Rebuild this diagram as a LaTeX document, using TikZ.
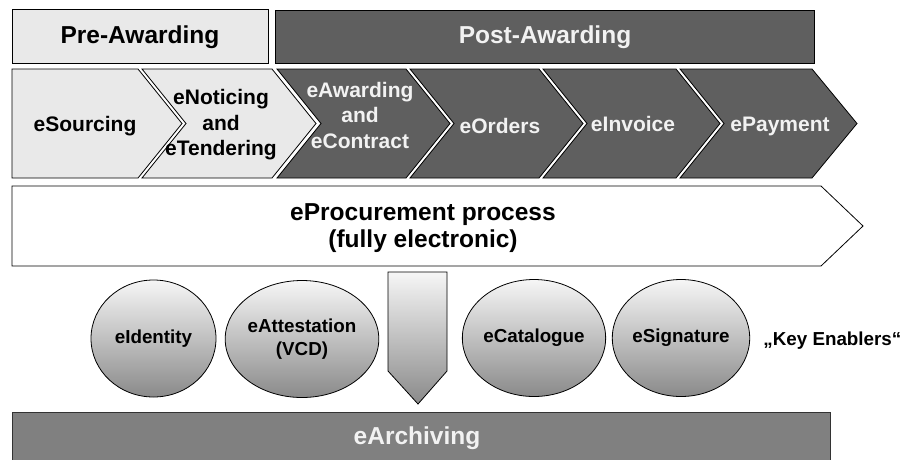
\documentclass[tikz,border=0pt]{standalone}
\usepackage{fontspec}
\setmainfont{Liberation Sans}
\usetikzlibrary{shapes.geometric}
\definecolor{lgray}{HTML}{E9E9E9}
\definecolor{dgray}{HTML}{5F5F5F}
\definecolor{agray}{HTML}{808080}
\definecolor{ltxt}{HTML}{F2F2F2}
\definecolor{shtop}{HTML}{F6F6F6}
\definecolor{shbot}{HTML}{8A8A8A}
\begin{document}
\begin{tikzpicture}[x=1pt,y=-1pt,line width=0.8pt,
  lightbox/.style={fill=lgray,draw=black},
  darkbox/.style={fill=dgray,draw=black},
  bigtxt/.style={font=\fontsize{24.5}{27}\selectfont\bfseries,align=center,inner sep=0pt},
  chevtxt/.style={font=\fontsize{21}{25.5}\selectfont\bfseries,align=center,inner sep=0pt},
  circtxt/.style={font=\fontsize{18.8}{23}\selectfont\bfseries,align=center,inner sep=0pt},
  enabler/.style={ellipse,draw=black,top color=shtop,bottom color=shbot,minimum width=125pt,minimum height=117pt,inner sep=0pt,font=\fontsize{18.8}{23}\selectfont\bfseries,align=center}]
\clip (0,0) rectangle (901,459);
\fill[white] (0,0) rectangle (901,459);
% phase headers
\draw[lightbox] (12,9) rectangle (268,63);
\node[bigtxt] (pre) at (140,37) {Pre-Awarding};
\draw[darkbox] (275,10) rectangle (814,63);
\node[bigtxt,text=ltxt] (post) at (545,37) {Post-Awarding};
% chevrons
\draw[lightbox] (12,69) -- (138,69) -- (182,123.5) -- (138,178) -- (12,178) -- cycle;
\draw[lightbox] (142,69) -- (272,69) -- (316,123.5) -- (272,178) -- (142,178) -- (186,123.5) -- cycle;
\draw[darkbox] (277,69) -- (406,69) -- (450,123.5) -- (406,178) -- (277,178) -- (321,123.5) -- cycle;
\draw[darkbox] (410,69) -- (539,69) -- (583,123.5) -- (539,178) -- (410,178) -- (454,123.5) -- cycle;
\draw[darkbox] (543,69) -- (676,69) -- (720,123.5) -- (676,178) -- (543,178) -- (587,123.5) -- cycle;
\draw[darkbox] (680,69) -- (812,69) -- (857,123.5) -- (812,178) -- (680,178) -- (724,123.5) -- cycle;
\node[chevtxt] (src) at (85,126) {eSourcing};
\node[chevtxt] (ntc) at (221,125) {eNoticing\\and\\eTendering};
\node[chevtxt,text=ltxt] (awd) at (360,115) {eAwarding\\and\\eContract};
\node[chevtxt,text=ltxt] (ord) at (500,126) {eOrders};
\node[chevtxt,text=ltxt] (inv) at (633,124) {eInvoice};
\node[chevtxt,text=ltxt] (pay) at (780,126) {ePayment};
% process arrow
\draw[fill=white,draw=black] (12,186) -- (821,186) -- (863,226) -- (821,266) -- (12,266) -- cycle;
\node[bigtxt] (proc) at (423,228) {eProcurement process\\(fully electronic)};
% key enablers
\node[enabler] (eid) at (153.5,338.5) {eIdentity};
\node[enabler] (eatt) at (302,339) {eAttestation\\(VCD)};
\node[enabler] (ecat) at (534,338) {eCatalogue};
\node[enabler] (esig) at (681,338) {eSignature};
\node[circtxt,anchor=west] (keyen) at (763,341) {„Key Enablers“};
% down arrow
\path[draw=black,top color=shtop,bottom color=shbot] (388,272) -- (447,272) -- (447,371) -- (418,404) -- (388,371) -- cycle;
% archiving
\draw[fill=agray,draw=black!80] (12,412) rectangle (830,470);
\node[bigtxt,text=ltxt] (arch) at (417,438) {eArchiving};
\end{tikzpicture}
\end{document}
